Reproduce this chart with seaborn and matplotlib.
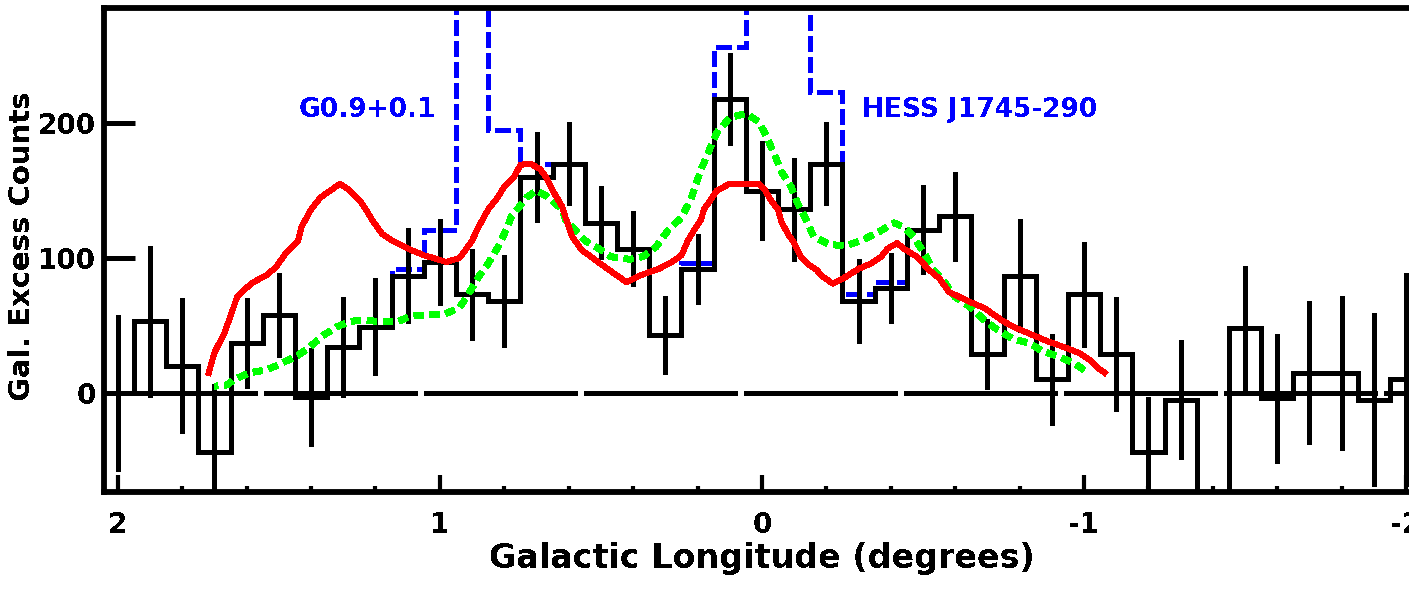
import matplotlib
matplotlib.use('Agg')
import numpy as np
import pandas as pd
import matplotlib.pyplot as plt
import seaborn as sns

sns.set_style('white')
plt.rcParams.update({'font.family': ['DejaVu Sans'], 'font.weight': 'bold',
                     'text.color': 'black', 'axes.labelcolor': 'black',
                     'xtick.color': 'black', 'ytick.color': 'black',
                     'axes.unicode_minus': False, 'lines.antialiased': False,
                     'text.antialiased': False, 'lines.solid_capstyle': 'butt'})

# binned excess counts (0.1 deg bins)
lon = [2.0, 1.9, 1.8, 1.7, 1.6, 1.5, 1.4, 1.3, 1.2, 1.1, 1.0, 0.9, 0.8, 0.7, 0.6, 0.5, 0.4, 0.3, 0.2, 0.1, 0.0,
       -0.1, -0.2, -0.3, -0.4, -0.5, -0.6, -0.7, -0.8, -0.9, -1.0, -1.1, -1.2, -1.3, -1.4, -1.5, -1.6, -1.7,
       -1.8, -1.9, -2.0]
counts = [0, 53, 20, -44, 37, 58, -3, 34, 49, 87, 97, 73, 68, 160, 170, 126, 107, 43, 92, 218, 150,
          136, 170, 68, 78, 121, 131, 29, 87, 10, 73, 29, -44, -5, -120, 48, -4, 15,
          15, -5, 10]
errs = [58, 56, 50, 51, 33, 31, 36, 37, 36, 35, 32, 34, 34, 33, 31, 27, 28, 29, 26, 34, 37,
        38, 31, 31, 26, 33, 33, 26, 42, 34, 39, 42, 41, 44, 40, 46, 48, 53,
        57, 64, 79]

# blue histogram (includes the point sources)
blue_lon = [1.2, 1.1, 1.0, 0.9, 0.8, 0.7, 0.6, 0.5, 0.4, 0.3, 0.2, 0.1, 0.0, -0.1, -0.2, -0.3, -0.4, -0.5]
blue_counts = [49, 92, 121, 400, 195, 170, 170, 126, 107, 43, 96, 256, 400, 400, 223, 73, 82, 121]

# red model curve
red_lon = [1.72, 1.70, 1.67, 1.65, 1.63, 1.61, 1.58, 1.54, 1.51, 1.48, 1.44, 1.43, 1.40, 1.37, 1.34, 1.31,
           1.28, 1.25, 1.23, 1.21, 1.18, 1.15, 1.10, 1.05, 1.02, 0.98, 0.94, 0.92, 0.90, 0.88, 0.85, 0.82,
           0.80, 0.77, 0.75, 0.72, 0.69, 0.67, 0.65, 0.62, 0.61, 0.59, 0.56, 0.52, 0.48, 0.45, 0.42, 0.38,
           0.32, 0.28, 0.25, 0.23, 0.21, 0.19, 0.18, 0.16, 0.14, 0.10, 0.06, 0.01, -0.01, -0.03, -0.05,
           -0.06, -0.08, -0.10, -0.12, -0.14, -0.17, -0.19, -0.22, -0.26, -0.30, -0.34, -0.37, -0.39,
           -0.42, -0.44, -0.48, -0.50, -0.52, -0.55, -0.58, -0.64, -0.69, -0.72, -0.75, -0.79, -0.84,
           -0.89, -0.95, -0.99, -1.02, -1.04, -1.07]
red_counts = [13, 30, 44, 57, 71, 76, 82, 87, 93, 103, 113, 123, 136, 145, 150, 155,
              150, 143, 136, 128, 118, 113, 107, 102, 100, 97, 100, 106, 113, 123, 136, 145,
              153, 160, 169, 170, 166, 160, 150, 138, 130, 116, 106, 99, 92, 87, 82, 87,
              92, 97, 102, 113, 121, 128, 136, 143, 150, 155, 155, 155, 150, 142, 136,
              127, 118, 111, 101, 96, 91, 86, 81, 86, 92, 96, 101, 107,
              111, 107, 101, 96, 91, 85, 75, 68, 63, 58, 53, 48, 43,
              38, 33, 29, 24, 19, 14]

# green model curve
green_lon = [1.70, 1.66, 1.64, 1.59, 1.54, 1.50, 1.44, 1.41, 1.36, 1.32, 1.28, 1.24, 1.19, 1.13, 1.09,
             1.04, 0.99, 0.94, 0.92, 0.91, 0.88, 0.85, 0.82, 0.79, 0.78, 0.76, 0.73, 0.70, 0.67, 0.62,
             0.61, 0.58, 0.55, 0.50, 0.47, 0.41, 0.37, 0.33, 0.29, 0.25, 0.22, 0.19, 0.16, 0.14, 0.10,
             0.05, 0.01, -0.01, -0.04, -0.06, -0.09, -0.11, -0.14, -0.16, -0.21, -0.26, -0.31, -0.36,
             -0.41, -0.44, -0.47, -0.51, -0.53, -0.57, -0.60, -0.65, -0.69, -0.73, -0.78, -0.83, -0.87,
             -0.92, -0.97, -1.00]
green_counts = [5, 6, 10, 15, 17, 21, 28, 33, 43, 49, 53, 54, 53, 53, 57,
                58, 58, 63, 70, 74, 86, 96, 108, 123, 130, 136, 145, 150, 146, 136,
                128, 121, 113, 106, 101, 99, 101, 108, 121, 130, 144, 165, 182, 193, 204,
                207, 201, 192, 176, 164, 153, 141, 127, 116, 110, 109, 113, 119,
                126, 123, 116, 101, 92, 81, 71, 63, 54, 47, 40, 37, 31,
                27, 22, 17]

xticks = [2, 1, 0, -1, -2]
yticks = [0, 100, 200]

# %%
fig = plt.figure(figsize=(14.09, 5.92), dpi=100)
ax = fig.add_axes([104 / 1409, 1 - 491.5 / 592, 1 - 104 / 1409, 484 / 592])

LW = 3.6
sns.lineplot(x=blue_lon, y=blue_counts, drawstyle='steps-mid', color='#0000ff', lw=LW,
             linestyle=(0, (3, 1)), ax=ax, zorder=2)
ax.axhline(0, color='black', lw=LW, linestyle=(0, (30.6, 1.2)), zorder=3)
sns.lineplot(x=lon, y=counts, drawstyle='steps-mid', color='black', lw=LW, ax=ax, zorder=3)
ax.vlines(lon, np.array(counts) - np.array(errs), np.array(counts) + np.array(errs),
          color='black', lw=LW, zorder=3)
sns.lineplot(x=green_lon, y=green_counts, color='#00ff00', lw=4.2, linestyle=(0, (1.6, 1.1)),
             ax=ax, zorder=4)
sns.lineplot(x=red_lon, y=red_counts, color='#ff0000', lw=LW, ax=ax, zorder=5)

ax.text(1.44, 210, 'G0.9+0.1', color='#0000ff', fontsize=19, fontweight='bold', va='center', ha='left')
ax.text(-0.31, 210, 'HESS J1745-290', color='#0000ff', fontsize=19, fontweight='bold', va='center', ha='left')

ax.set_xlim(2.043, -2.009)
ax.set_ylim(-73, 285.6)
ax.set_xticks(xticks)
ax.set_xticklabels([str(t) for t in xticks])
ax.set_xticks(np.arange(-2, 2.01, 0.2), minor=True)
ax.set_yticks(yticks)
ax.tick_params(axis='y', which='major', direction='in', length=22, width=LW, labelsize=20, pad=6, left=True)
ax.tick_params(axis='x', which='major', direction='in', length=12, width=3, labelsize=20, pad=14, bottom=True)
ax.tick_params(axis='x', which='minor', direction='in', length=4.5, width=3, bottom=True)

for side in ['left', 'bottom', 'top']:
    ax.spines[side].set_linewidth(4.2)
    ax.spines[side].set_color('black')
ax.spines['right'].set_visible(False)

ax.set_ylabel('Gal. Excess Counts', fontsize=21, fontweight='bold')
ax.yaxis.set_label_coords(-0.052, 0.507)
ax.set_xlabel('Galactic Longitude (degrees)', fontsize=24, fontweight='bold')
ax.xaxis.set_label_coords(0.504, -0.105)

plt.savefig('out.png', dpi=100)
